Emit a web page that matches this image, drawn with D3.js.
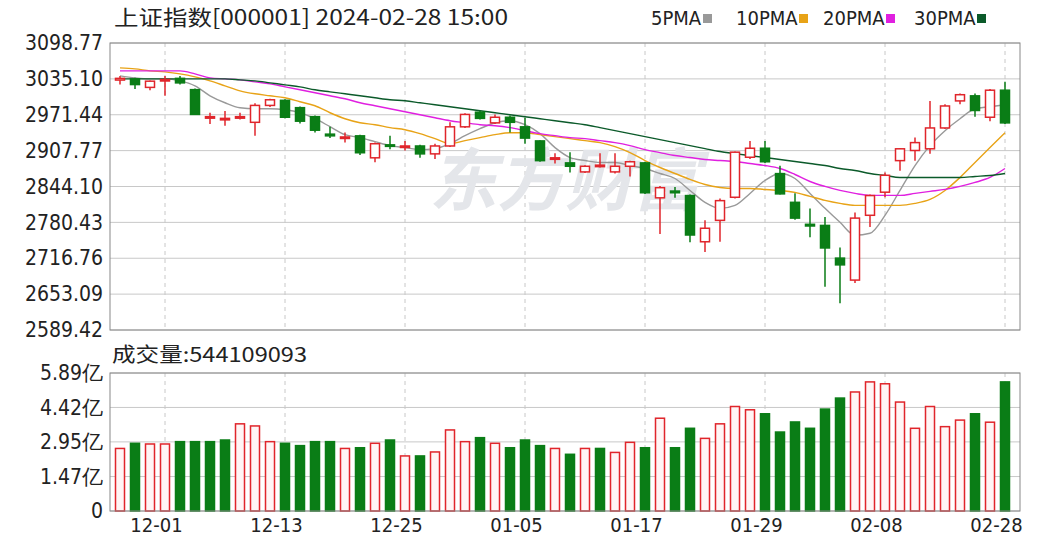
<!DOCTYPE html>
<html><head><meta charset="utf-8">
<script src="https://cdn.jsdelivr.net/npm/d3@7"></script>
<style>body{margin:0;background:#fff}svg{display:block}</style>
</head><body><svg id="c" width="1060" height="552"></svg>
<script>
const dates=["11-28","11-29","11-30","12-01","12-04","12-05","12-06","12-07","12-08","12-11","12-12","12-13","12-14","12-15","12-18","12-19","12-20","12-21","12-22","12-25","12-26","12-27","12-28","12-29","01-02","01-03","01-04","01-05","01-08","01-09","01-10","01-11","01-12","01-15","01-16","01-17","01-18","01-19","01-22","01-23","01-24","01-25","01-26","01-29","01-30","01-31","02-01","02-02","02-05","02-06","02-07","02-08","02-19","02-20","02-21","02-22","02-23","02-26","02-27","02-28"];
const open=[3033,3035,3020,3032,3036,3016,2966,2963,2966,2958,2988,2997,2984,2968,2937,2930,2934,2895,2918,2914,2916,2902,2916,2950,2976,2957,2967,2950,2925,2893,2886,2870,2880,2870,2880,2886,2824,2836,2828,2746,2784,2825,2896,2912,2867,2816,2777,2775,2717,2678,2793,2834,2890,2908,2911,2948,2996,3005,2967,3015];
const close=[3036,3025,3031,3034,3028,2972,2968,2965,2968,2988,2998,2967,2960,2944,2934,2932,2904,2920,2916,2916,2902,2916,2950,2972,2965,2967,2958,2930,2890,2895,2880,2880,2882,2880,2888,2833,2842,2833,2758,2770,2819,2905,2912,2888,2831,2788,2774,2735,2705,2788,2828,2864,2911,2922,2948,2987,3007,2979,3015,2957];
const high=[3040,3037,3032,3040,3040,3018,2975,2978,2975,2992,3000,2999,2986,2970,2950,2940,2936,2922,2934,2925,2918,2920,2958,2974,2978,2972,2970,2966,2926,2903,2905,2882,2903,2903,2890,2888,2845,2843,2830,2784,2823,2906,2925,2925,2881,2832,2805,2790,2736,2798,2830,2869,2912,2931,2996,2990,3009,3009,3017,3030];
const low=[3025,3017,3015,3005,3025,2971,2955,2952,2963,2934,2985,2965,2956,2940,2930,2922,2900,2887,2910,2908,2895,2893,2914,2948,2963,2955,2940,2920,2888,2885,2869,2868,2878,2867,2862,2831,2760,2824,2745,2728,2746,2823,2893,2886,2830,2785,2754,2666,2637,2673,2772,2825,2872,2890,2902,2946,2990,2968,2960,2955];
const ma5=[3040.4,3036.9,3035.1,3035.1,3031.6,3022.8,3005.1,2992.7,2983.8,2982.1,2982.1,2980.3,2975.0,2964.4,2950.3,2936.1,2930.8,2923.7,2916.7,2913.1,2909.6,2911.4,2920.2,2934.3,2946.7,2957.3,2960.9,2953.8,2937.9,2913.1,2895.5,2890.2,2886.6,2886.6,2881.3,2876.0,2867.2,2858.3,2837.1,2815.9,2805.3,2810.6,2831.8,2854.8,2867.2,2858.3,2831.8,2805.3,2780.5,2757.5,2761.1,2792.9,2837.1,2881.3,2916.7,2943.2,2964.4,2982.1,2985.6,2989.2];
const ma10=[3054.6,3052.8,3049.3,3047.5,3044.0,3038.7,3031.6,3022.8,3013.9,3008.6,3005.1,3001.5,2994.5,2987.4,2975.0,2964.4,2957.3,2953.8,2948.5,2944.9,2937.9,2929.0,2920.2,2925.5,2930.8,2936.1,2939.6,2939.6,2936.1,2932.6,2929.0,2925.5,2922.0,2914.9,2904.3,2890.2,2877.8,2867.2,2856.6,2847.7,2842.4,2840.6,2840.6,2838.9,2837.1,2833.6,2826.5,2819.4,2814.1,2810.6,2810.6,2810.6,2810.6,2814.1,2821.2,2837.1,2860.1,2886.6,2913.1,2939.6];
const ma20=[3049.3,3049.3,3049.3,3049.3,3049.3,3044.0,3036.9,3035.1,3033.4,3029.8,3026.3,3021.0,3015.7,3010.4,3005.1,2999.8,2992.7,2987.4,2982.1,2976.8,2971.5,2966.2,2960.9,2957.3,2953.8,2952.0,2948.5,2943.2,2937.9,2934.3,2930.8,2929.0,2925.5,2922.0,2916.7,2909.6,2904.3,2899.0,2895.5,2891.9,2890.2,2888.4,2884.8,2881.3,2876.0,2865.4,2853.0,2844.2,2837.1,2831.8,2828.3,2828.3,2828.3,2831.8,2835.4,2838.9,2844.2,2851.3,2860.1,2876.0];
const ma30=[3035.1,3035.1,3035.1,3035.1,3035.1,3035.1,3035.1,3035.1,3033.4,3031.6,3028.1,3024.5,3021.0,3015.7,3012.1,3008.6,3005.1,3001.5,2998.0,2996.2,2992.7,2989.2,2985.6,2982.1,2978.5,2975.0,2971.5,2967.9,2964.4,2960.9,2957.3,2953.8,2948.5,2943.2,2937.9,2932.6,2927.3,2922.0,2916.7,2911.4,2906.1,2902.5,2899.0,2895.5,2891.9,2888.4,2884.8,2881.3,2876.0,2872.5,2867.2,2863.6,2860.1,2860.1,2860.1,2860.1,2860.1,2861.9,2863.6,2867.2];
const volume=[2.67,2.89,2.86,2.86,2.96,2.96,2.96,3.03,3.72,3.63,2.96,2.89,2.79,2.96,2.96,2.67,2.70,2.89,3.03,2.35,2.35,2.52,3.46,2.96,3.13,2.89,2.70,3.03,2.79,2.67,2.42,2.67,2.67,2.50,2.93,2.70,3.96,2.70,3.53,3.10,3.72,4.46,4.32,4.15,3.37,3.80,3.53,4.35,4.82,5.08,5.51,5.43,4.65,3.53,4.46,3.60,3.88,4.15,3.79,5.51];
const volUp=[1,0,1,1,0,0,0,0,1,1,1,0,0,0,0,1,0,1,0,1,0,1,1,1,0,1,0,0,0,1,0,1,0,1,1,0,1,0,0,1,1,1,1,0,0,0,0,0,0,1,1,1,1,1,1,1,1,0,1,0];
const priceTicks=[3098.77,3035.10,2971.44,2907.77,2844.10,2780.43,2716.76,2653.09,2589.42];
const volTicks=[5.89,4.42,2.95,1.47,0];
const volTickLabels=["5.89亿","4.42亿","2.95亿","1.47亿","0"];
const xTickIdx=[3,11,19,27,35,43,51,59];
const maNames=["5PMA","10PMA","20PMA","30PMA"];
const maColors=["#999999","#e8a317","#e020e0","#0b5a2a"];
const RED="#e0252b",GREEN="#0a7d16";

const svg=d3.select("#c");
const L=110,R=1020,PT=43,PB=330,VT=373,VB=511;
const x=d3.scaleLinear().domain([0,59]).range([120,1005]);
const y=d3.scaleLinear().domain([2589.42,3098.77]).range([PB,PT]);
const yv=d3.scaleLinear().domain([0,5.89]).range([VB,VT]);
const font="'Liberation Sans Narrow','DejaVu Sans Condensed',sans-serif";

// grids
function grid(g,ys,top,bot){
  g.selectAll("line.h").data(ys).join("line").attr("x1",L).attr("x2",R).attr("y1",d=>d).attr("y2",d=>d).attr("stroke","#c8c8c8");
  g.selectAll("line.v").data(xTickIdx).join("line").attr("class","v").attr("x1",d=>x(d)).attr("x2",d=>x(d)).attr("y1",top).attr("y2",bot).attr("stroke","#c8c8c8").attr("stroke-dasharray","4,4");
}
grid(svg.append("g"),priceTicks.map(y),PT,PB);
grid(svg.append("g"),volTicks.map(yv),VT,VB);

// watermark
svg.append("text").attr("x",565).attr("y",205).attr("text-anchor","middle").attr("font-size",68).attr("font-weight","bold")
  .attr("font-family","'Noto Sans CJK SC'").attr("fill","#e4e6ea").attr("font-style","italic").text("东方财富");

// MA lines
[ma5,ma10,ma20,ma30].forEach((m,k)=>{
  svg.append("path").attr("d",d3.line().x((d,i)=>x(i)).y(d=>y(d)).curve(d3.curveMonotoneX)(m))
    .attr("fill","none").attr("stroke",maColors[k]).attr("stroke-width",1.4);
});

// candles
const cw=9;
const c=svg.append("g").selectAll("g").data(dates).join("g");
c.append("line").attr("x1",(d,i)=>x(i)).attr("x2",(d,i)=>x(i))
  .attr("y1",(d,i)=>y(high[i])).attr("y2",(d,i)=>y(low[i]))
  .attr("stroke",(d,i)=>close[i]>=open[i]?RED:GREEN).attr("stroke-width",1.5);
c.append("rect").attr("x",(d,i)=>x(i)-cw/2)
  .attr("y",(d,i)=>y(Math.max(open[i],close[i])))
  .attr("width",cw).attr("height",(d,i)=>Math.max(1.5,Math.abs(y(open[i])-y(close[i]))))
  .attr("fill",(d,i)=>close[i]>=open[i]?"#fff":GREEN)
  .attr("stroke",(d,i)=>close[i]>=open[i]?RED:GREEN).attr("stroke-width",1.5);

// volume bars
svg.append("g").selectAll("rect").data(volume).join("rect")
  .attr("x",(d,i)=>x(i)-4.5).attr("y",d=>yv(d)).attr("width",9).attr("height",d=>VB-yv(d))
  .attr("fill",(d,i)=>volUp[i]?"#fff5f5":GREEN).attr("stroke",(d,i)=>volUp[i]?RED:GREEN).attr("stroke-width",1.5);

// frames
svg.append("rect").attr("x",L).attr("y",PT).attr("width",R-L).attr("height",PB-PT).attr("fill","none").attr("stroke","#888");
svg.append("rect").attr("x",L).attr("y",VT).attr("width",R-L).attr("height",VB-VT).attr("fill","none").attr("stroke","#888");

// axes
const ya=svg.append("g").attr("transform",`translate(${L-4},0)`).call(d3.axisLeft(y).tickValues(priceTicks).tickSize(0).tickFormat(d3.format(".2f")));
ya.select(".domain").remove();
ya.selectAll("text").attr("font-size",21).attr("font-family",font).attr("fill","#222");
const va=svg.append("g").attr("transform",`translate(${L-4},0)`).call(d3.axisLeft(yv).tickValues(volTicks).tickSize(0).tickFormat((d,i)=>volTickLabels[i]));
va.select(".domain").remove();
va.selectAll("text").attr("font-size",21).attr("font-family",font).attr("fill","#222");
const xa=svg.append("g").attr("transform",`translate(-9,${VB+4})`).call(d3.axisBottom(x).tickValues(xTickIdx).tickSize(0).tickFormat(i=>dates[i]));
xa.select(".domain").remove();
xa.selectAll("text").attr("font-size",20).attr("font-family",font).attr("fill","#222");

// titles
svg.append("text").attr("x",114).attr("y",25).attr("font-size",21).attr("font-family","'Noto Sans CJK SC'").attr("fill","#222")
  .attr("textLength",394).attr("lengthAdjust","spacingAndGlyphs").text("上证指数[000001] 2024-02-28 15:00");
svg.append("text").attr("x",112).attr("y",362).attr("font-size",20).attr("font-family","'Noto Sans CJK SC'").attr("fill","#222")
  .attr("textLength",195).attr("lengthAdjust","spacingAndGlyphs").text("成交量:544109093");
const lx=[651,736,823,914];
maNames.forEach((n,k)=>{
  svg.append("text").attr("x",lx[k]).attr("y",25).attr("font-size",20).attr("font-family",font).attr("fill","#222").text(n);
  svg.append("rect").attr("x",lx[k]+(n.length===4?52:63)).attr("y",14).attr("width",9).attr("height",9).attr("fill",maColors[k]);
});
</script></body></html>
